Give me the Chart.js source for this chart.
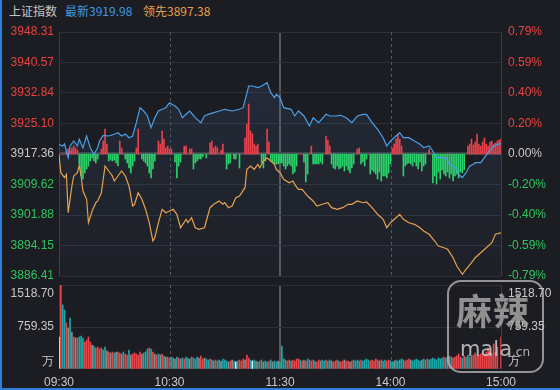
<!DOCTYPE html>
<html>
<head>
<meta charset="utf-8">
<script src="https://cdn.jsdelivr.net/npm/chart.js@4.4.0/dist/chart.umd.min.js"></script>
<style>
  html, body { margin: 0; padding: 0; background: #1c1d22; }
  #wrap { position: relative; width: 560px; height: 390px; overflow: hidden; background: #1c1d22; }
  #head { position: absolute; left: 0; top: 0; height: 22px; width: 560px; font: 12px "Noto Sans CJK SC", sans-serif; line-height: 22px; }
  #head span { position: absolute; top: 0; white-space: nowrap; }
  #name { left: 9px; color: #c4c4c4; }
  #last { left: 65px; color: #3f9ae6; }
  #lead { left: 143px; color: #e6a04c; }
  .box { position: absolute; left: 0; width: 560px; }
  #edgeL { position: absolute; left: 0; top: 0; width: 2px; height: 390px; background: #2f7fd8; }
  #edgeB { position: absolute; left: 0; bottom: 0; width: 560px; height: 2px; background: #2f7fd8; }
  #wm { position: absolute; left: 447px; top: 280px; width: 93px; height: 89px; border: 2px solid rgba(200,200,200,0.7); border-radius: 14px; pointer-events: none; }
  #wm .big { position: absolute; left: 7px; top: 5px; font: bold 36px "Noto Sans CJK SC", sans-serif; color: rgba(165,165,165,0.85); letter-spacing: 1px; line-height: 44px; }
  #wm .small { position: absolute; left: 11px; top: 55px; font: 21px "DejaVu Sans", sans-serif; color: rgba(215,215,215,0.8); line-height: 24px; }
  #wm .small span { font-size: 12px; }
</style>
</head>
<body>
<div id="wrap">
  <div id="head"><span id="name">上证指数</span><span id="last"></span><span id="lead"></span></div>
  <div class="box" style="top:22px;height:260px"><canvas id="mainChart" width="560" height="260"></canvas></div>
  <div class="box" style="top:282px;height:108px"><canvas id="volChart" width="560" height="108"></canvas></div>
  <div id="wm"><div class="big">麻辣</div><div class="small">mala<span>.cn</span></div></div>
  <div id="edgeL"></div>
  <div id="edgeB"></div>
</div>
<script>
// session axis: minute index 0..240 (09:30-11:30, 13:00-15:00)
const sessionMinutes = [0, 60, 120, 180, 240];
const timeLabels = ["09:30", "10:30", "11:30", "14:00", "15:00"];

const prevClose = 3917.36;
const priceTicks = [3948.31, 3940.57, 3932.84, 3925.10, 3917.36, 3909.62, 3901.88, 3894.15, 3886.41];
const pctLabels = ["0.79%", "0.59%", "0.40%", "0.20%", "0.00%", "-0.20%", "-0.40%", "-0.59%", "-0.79%"];
const volTicks = [759.35, 1518.70];

// index price (blue)
const blueMin = [0, 2, 3, 5, 6, 8, 10, 11, 13, 15, 17, 19, 21, 22, 24, 27, 30, 32, 34, 36, 38, 40, 42, 44, 46, 48, 50, 52, 54, 56, 58, 60,
  63, 65, 67, 69, 71, 74, 77, 79, 81, 84, 87, 90, 94, 98, 100, 103, 105, 108, 110, 113, 115, 117, 118, 120,
  122, 126, 128, 130, 133, 136, 138, 141, 145, 147, 150, 153, 156, 159, 162, 165, 167, 170, 173, 176, 178, 180,
  183, 185, 187, 190, 193, 196, 198, 201, 203, 205, 207, 210, 212, 214, 216, 217, 219, 221, 223, 225, 226, 229,
  231, 233, 235, 238, 240];
const blueVal = [3919.82, 3919.39, 3919.90, 3916.42, 3919.39, 3920.66, 3919.39, 3921.09, 3918.96, 3921.93, 3918.96, 3917.28,
  3918.96, 3920.66, 3922.10, 3921.93, 3922.36, 3922.76, 3921.93, 3922.43, 3921.50, 3921.93, 3925.30, 3929.11, 3928.27,
  3927.00, 3924.03, 3926.57, 3928.27, 3928.70, 3929.11, 3930.37,
  3929.54, 3928.70, 3926.57, 3927.43, 3928.27, 3926.57, 3925.30, 3927.00, 3927.43, 3927.84, 3928.27, 3928.70, 3928.27,
  3928.70, 3929.11, 3934.61, 3934.61, 3934.18, 3934.61, 3935.45, 3932.91, 3931.64, 3932.51, 3931.64,
  3929.11, 3928.70, 3927.00, 3928.27, 3927.00, 3924.46, 3926.57, 3925.30, 3927.43, 3927.00, 3927.00, 3927.18, 3926.57,
  3925.30, 3927.00, 3927.43, 3927.43, 3925.30, 3923.63, 3921.50, 3919.39, 3920.66,
  3921.93, 3922.76, 3921.50, 3921.50, 3920.66, 3919.82, 3918.96, 3919.39, 3918.12, 3916.42, 3916.42, 3916.42, 3914.75,
  3914.32, 3913.48, 3912.21, 3911.35, 3912.62, 3914.32, 3914.75, 3915.15, 3915.15,
  3916.42, 3917.69, 3918.96, 3919.82, 3919.98];

// leading index (orange)
const orangeMin = [0, 1, 3, 4, 5, 7, 8, 10, 11, 12, 13, 15, 16, 18, 20, 21, 23, 25, 27, 29, 30, 32, 34, 36, 38, 40, 41, 43, 45, 47,
  49, 51, 52, 54, 56, 58, 60, 62, 64, 66, 69, 70, 72, 74, 76, 79, 80, 82, 84, 87, 89, 90, 92, 94, 96, 98, 101, 102,
  104, 106, 108, 109, 111, 113, 115, 117, 118, 120, 122, 125, 127, 128, 130, 132, 135, 138, 140, 143, 146, 148, 151,
  154, 157, 159, 162, 165, 167, 170, 173, 176, 178, 180, 183, 185, 187, 190, 193, 196, 198, 201, 204, 206, 209, 211,
  214, 216, 219, 221, 224, 226, 229, 232, 235, 237, 240];
const orangeVal = [3917.28, 3912.62, 3911.35, 3912.21, 3902.47, 3909.24, 3911.78, 3912.62, 3914.49, 3911.78, 3907.97, 3905.87,
  3899.93, 3902.90, 3905.00, 3905.44, 3907.54, 3914.32, 3913.05, 3911.78, 3910.51, 3911.78, 3913.05, 3911.78, 3909.24,
  3904.17, 3904.60, 3907.54, 3905.87, 3903.33,
  3899.93, 3895.29, 3896.12, 3899.93, 3903.33, 3902.47, 3902.90, 3903.33, 3902.06, 3898.66, 3900.79, 3899.93, 3901.20,
  3898.66, 3898.26, 3898.66, 3900.36, 3903.74, 3904.60, 3905.44, 3904.60, 3905.00, 3903.74, 3904.17, 3906.27, 3906.70,
  3908.81, 3913.48,
  3914.32, 3913.48, 3914.75, 3913.88, 3915.58, 3916.42, 3915.58, 3914.75, 3913.48, 3912.62, 3910.94, 3910.08, 3910.51,
  3909.67, 3908.40, 3908.40, 3906.70, 3905.44, 3904.17, 3904.60, 3905.00, 3903.74, 3903.33,
  3903.74, 3904.60, 3904.60, 3905.44, 3905.00, 3905.18, 3903.74, 3902.06, 3900.79, 3898.66, 3899.93, 3901.20, 3902.06,
  3900.79, 3899.93, 3899.52, 3898.66, 3897.83, 3896.99, 3895.29, 3894.02, 3893.59, 3893.18,
  3891.05, 3888.95, 3886.84, 3888.11, 3889.78, 3891.05, 3892.32, 3893.59, 3894.86, 3896.99, 3897.38];

// buy/sell strength per minute (red up, green down)
const strength = [0, 0, 0, 0, 3, 5, 3, 6, 8, 6, 4,
  -10, -22, -25, -19, -15, -12, -7, -4, -7, -9,
  -5, 0, 5, 13, 25, 10, -7, -6, -7, -6,
  -9, -12, 13, 6, 0, -5, -9, -14, -19, -12,
  -7, 6, 25, 0, -5, -7, -9, -12, -19, -24,
  -15, -7, 0, 13, 10, 23, 15, 6, 8, 5,
  5, 0, -8, -24, -12, -8, 0, 8, 8, 0,
  5, 5, -15, -9, -7, -5, -5, -3, 0, -4,
  0, 11, 13, 6, 8, 6, 0, 4, 10, 0,
  -15, -10, -9, 0, -5, -5, 0, -14, 0, 0,
  16, 30, 50, 23, 20, 10, 8, 10, 0, -9,
  -14, -7, 25, 12, -7, -8, -10, -10, -10, -9,
  -9, -12, -15, -12, -10, -12, -20, -18, -12, 0,
  0, 0, -8, -28, -20, 0, 8, -10, -10, -10,
  -10, -8, -10, 0, 18, 14, 8, -10, -14, -15,
  -12, -15, -14, -12, -17, -12, -16, -19, -14, -10,
  0, 5, 6, -10, -8, -12, -5, 0, -20, -16,
  -18, -20, -25, -18, -27, -22, -22, -24, -19, -10,
  6, 10, 15, 20, 15, 8, -22, -12, -10, -9,
  -10, -12, -8, -12, -15, -8, -17, -12, -10, 0,
  5, 0, -29, -22, -30, -18, -25, -16, -20, -22,
  -18, -24, -20, -27, -22, -20, -24, -18, -19, -16,
  0, 8, 10, 15, 9, 12, 20, 10, 8, 12,
  16, 10, 8, 12, 13, 10, 11, 13, 14, 15];

// volume per minute (万) and direction: 1 up, -1 down, 0 flat, 2 auction
const volume = [579, 1518.7, 1157, 1067, 832, 741, 922, 669, 579, 560, 560, 579, 597, 560, 488, 524, 579, 488, 434, 416,
  380, 398, 362, 380, 344, 398, 325, 307, 289, 307, 289, 307, 307, 289, 271, 307, 271, 253, 344, 253,
  271, 289, 271, 253, 307, 271, 289, 307, 362, 380, 362, 307, 271, 253, 271, 253, 271, 235, 217, 217,
  199, 217, 199, 181, 217, 199, 181, 199, 181, 217, 199, 181, 217, 199, 181, 217, 199, 235, 181, 199,
  181, 163, 181, 163, 145, 163, 145, 163, 145, 181, 163, 145, 127, 145, 163, 145, 127, 145, 163, 145,
  181, 163, 253, 199, 163, 145, 163, 145, 127, 145, 163, 127, 145, 127, 145, 163, 127, 145, 127, 145,
  127, 416, 181, 163, 145, 163, 145, 163, 145, 181, 181, 163, 145, 163, 145, 181, 163, 145, 163, 145,
  127, 163, 145, 163, 145, 163, 145, 163, 145, 127, 145, 163, 145, 127, 145, 163, 145, 145, 127, 145,
  163, 145, 163, 145, 163, 145, 163, 181, 163, 145, 163, 145, 181, 163, 145, 163, 145, 163, 145, 163,
  145, 127, 145, 163, 145, 163, 181, 163, 145, 163, 181, 163, 145, 163, 181, 163, 145, 163, 181, 163,
  181, 163, 181, 199, 181, 163, 199, 181, 199, 217, 199, 217, 235, 217, 199, 217, 235, 271, 217, 199,
  235, 217, 253, 217, 235, 253, 289, 235, 253, 271, 289, 253, 307, 380, 307, 289, 452, 307, 398, 0,
  579];
const volDir = [2, 1, -1, -1, 1, 0, -1, 0, 1, 0, 1, -1, -1, -1, 1, 1, 1, 1, 0, -1,
  1, 1, 1, 1, -1, -1, 0, 1, 0, 1, -1, 0, 1, 1, 0, -1, 1, 1, -1, 0,
  1, 1, 1, 1, 1, 0, -1, -1, -1, 1, -1, 1, 0, 1, -1, 0, 1, -1, 0, 1,
  1, -1, -1, 0, -1, 1, 0, -1, 1, -1, -1, 0, 1, -1, -1, -1, 0, 1, 1, 0,
  -1, -1, 1, -1, 0, 1, -1, -1, 0, -1, -1, -1, 0, 1, 0, -1, 2, -1, 1, 1,
  1, 0, 1, 1, -1, 2, -1, 0, -1, 1, -1, 0, -1, -1, 1, -1, 0, -1, -1, 0,
  -1, -1, -1, -1, 1, 1, -1, 1, 1, 1, 1, -1, 1, 0, 1, -1, -1, 1, 1, -1,
  1, 1, 0, -1, -1, 1, -1, -1, 0, 1, 1, 1, -1, 1, 1, 0, 1, 1, 0, 1,
  -1, -1, -1, -1, 1, -1, -1, -1, -1, 1, 1, 1, 1, 1, 0, 1, -1, -1, 1, 1,
  -1, -1, 0, -1, -1, -1, -1, -1, 1, 1, 1, 0, -1, -1, -1, -1, -1, 0, -1, -1,
  1, -1, -1, -1, -1, -1, -1, -1, -1, 1, -1, -1, 1, -1, 1, 1, 1, 1, 1, -1,
  1, -1, -1, 1, -1, 1, 1, 1, 1, 1, 1, 1, 1, 1, 1, 1, 1, 1, 1, 0,
  1];

const RED = "#e8423f";
const GREEN = "#2ec45c";
const GRAYTXT = "#c8c8c8";
const GRID = "#2d2f36";
const VLINE = "#3b3d44";
const MIDLINE = "#56585e";

document.getElementById("last").textContent = "最新" + blueVal[blueVal.length - 1].toFixed(2);
document.getElementById("lead").textContent = "领先" + orangeVal[orangeVal.length - 1].toFixed(2);

Chart.defaults.font.family = "Arial, 'Liberation Sans', sans-serif";
Chart.defaults.font.size = 12;

const pts = (xs, ys) => xs.map((x, i) => ({ x: x, y: ys[i] }));
const setTicks = (vals) => (scale) => { scale.ticks = vals.map((v) => ({ value: v })); };
const priceColor = (v) => (v > prevClose + 0.001 ? RED : v < prevClose - 0.001 ? GREEN : GRAYTXT);
const ascPrice = priceTicks.slice().sort((a, b) => a - b);

// fixed side-axis width, and no extra label padding pushed into the plot
const sideFit = (s) => { s.width = 59; s.paddingTop = 0; s.paddingBottom = 0; };

// dashed hour lines (10:30, 14:00) drawn under the datasets
const hourLines = {
  id: "hourLines",
  beforeDatasetsDraw(chart) {
    const { ctx, chartArea: a, scales } = chart;
    ctx.save();
    ctx.strokeStyle = "#55575e";
    ctx.lineWidth = 1;
    ctx.setLineDash([3, 3]);
    [sessionMinutes[1], sessionMinutes[3]].forEach((m) => {
      const px = Math.round(scales.x.getPixelForValue(m)) + 0.5;
      ctx.beginPath();
      ctx.moveTo(px, a.top);
      ctx.lineTo(px, a.bottom);
      ctx.stroke();
    });
    ctx.restore();
  }
};

function sessionAxis(showLabels) {
  return {
    type: "linear", min: 0, max: 240, offset: false,
    afterBuildTicks: setTicks(showLabels ? sessionMinutes : [0, 120, 240]),
    ticks: {
      display: showLabels, autoSkip: false, maxRotation: 0, padding: 6, color: GRAYTXT,
      callback: (v) => timeLabels[sessionMinutes.indexOf(v)]
    },
    grid: {
      drawTicks: false, offset: false,
      color: (c) => {
        const v = c.tick ? c.tick.value : 0;
        if (v === 120) return MIDLINE;
        if (v === 60 || v === 180) return "transparent";
        return VLINE;
      },
      lineWidth: (c) => (c.tick && c.tick.value === 120 ? 2 : 1)
    },
    border: { display: false },
    afterFit: (s) => { s.height = showLabels ? 21 : 0; s.paddingLeft = 0; s.paddingRight = 0; }
  };
}

new Chart(document.getElementById("mainChart"), {
  type: "bar",
  data: {
    datasets: [
      {
        type: "line", label: "最新", data: pts(blueMin, blueVal), yAxisID: "y", xAxisID: "x", order: 0,
        borderColor: "#4a9fe8", borderWidth: 1.2, pointRadius: 0, tension: 0, fill: "start",
        backgroundColor: (ctx) => {
          const a = ctx.chart.chartArea;
          if (!a) return "rgba(70,110,160,0.12)";
          const g = ctx.chart.ctx.createLinearGradient(0, a.top, 0, a.bottom);
          g.addColorStop(0, "rgba(80,120,175,0.18)");
          g.addColorStop(1, "rgba(80,120,175,0.04)");
          return g;
        }
      },
      {
        type: "line", label: "领先", data: pts(orangeMin, orangeVal), yAxisID: "y", xAxisID: "x", order: 1,
        borderColor: "#e6a24e", borderWidth: 1.2, pointRadius: 0, tension: 0, fill: false
      },
      {
        type: "bar", label: "strength", data: strength.map((v, i) => ({ x: i, y: v })), yAxisID: "s", xAxisID: "x", order: 2,
        barThickness: 1, backgroundColor: (c) => (c.raw && c.raw.y >= 0 ? "#e6424c" : "#2bd06a")
      }
    ]
  },
  plugins: [hourLines],
  options: {
    responsive: false, animation: false,
    layout: { padding: { top: 10, bottom: 6, left: 0, right: 0 } },
    plugins: { legend: { display: false }, tooltip: { enabled: false }, filler: { drawTime: "beforeDatasetsDraw" } },
    scales: {
      x: sessionAxis(false),
      y: {
        position: "left", min: ascPrice[0], max: ascPrice[ascPrice.length - 1],
        afterBuildTicks: setTicks(ascPrice),
        ticks: {
          autoSkip: false, padding: 5,
          color: (c) => priceColor(c.tick.value),
          callback: (v) => v.toFixed(2)
        },
        grid: {
          drawTicks: false,
          color: (c) => (c.tick && Math.abs(c.tick.value - prevClose) < 0.001 ? "#3c3f46" : GRID),
          lineWidth: (c) => (c.tick && Math.abs(c.tick.value - prevClose) < 0.001 ? 3 : 1)
        },
        border: { display: false },
        afterFit: sideFit
      },
      yr: {
        position: "right", min: ascPrice[0], max: ascPrice[ascPrice.length - 1],
        afterBuildTicks: setTicks(ascPrice),
        ticks: {
          autoSkip: false, padding: 7,
          color: (c) => priceColor(c.tick.value),
          callback: (v) => pctLabels[priceTicks.indexOf(v)]
        },
        grid: { display: false, drawTicks: false },
        border: { display: false },
        afterFit: sideFit
      },
      s: { display: false, min: -122, max: 122 }
    }
  }
});

// volume panel: label anchors sit just inside the top and bottom edges
const volMax = volTicks[volTicks.length - 1];
const volTickVals = [0, volMax * 0.083, volTicks[0], volMax * 0.893, volMax];
const volLabel = (v) => {
  const i = volTickVals.indexOf(v);
  return ["", "万", volTicks[0].toFixed(2), volMax.toFixed(2), ""][i];
};
const volGrid = (c) => {
  const v = c.tick ? c.tick.value : 0;
  return v === volTicks[0] || v === volMax ? GRID : "transparent";
};

new Chart(document.getElementById("volChart"), {
  type: "bar",
  data: {
    datasets: [{
      label: "成交量", data: volume.map((v, i) => ({ x: i, y: v })), xAxisID: "x", yAxisID: "v",
      barThickness: 1,
      backgroundColor: volDir.map((d) => (d === 1 ? "#e8464b" : d === -1 ? "#1ca8a8" : d === 0 ? "#8c8c8c" : "#f2f2f2"))
    }]
  },
  plugins: [hourLines],
  options: {
    responsive: false, animation: false,
    layout: { padding: { top: 3, bottom: 0, left: 0, right: 0 } },
    plugins: { legend: { display: false }, tooltip: { enabled: false } },
    scales: {
      x: sessionAxis(true),
      v: {
        position: "left", min: 0, max: volMax,
        afterBuildTicks: setTicks(volTickVals),
        ticks: { autoSkip: false, padding: 5, color: GRAYTXT, callback: volLabel },
        grid: { drawTicks: false, color: volGrid },
        border: { display: false },
        afterFit: sideFit
      },
      vr: {
        position: "right", min: 0, max: volMax,
        afterBuildTicks: setTicks(volTickVals),
        ticks: { autoSkip: false, padding: 7, color: GRAYTXT, callback: volLabel },
        grid: { display: false, drawTicks: false },
        border: { display: false },
        afterFit: sideFit
      }
    }
  }
});
</script>
</body>
</html>
